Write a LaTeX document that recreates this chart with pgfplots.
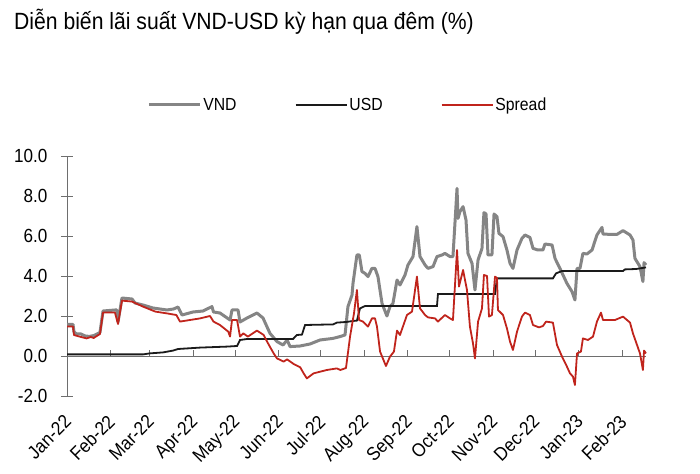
\documentclass[border=0pt]{standalone}
\usepackage{pgfplots}
\pgfplotsset{compat=1.18}
\usepackage{fontspec}
\setmainfont{Liberation Sans}[FakeStretch=0.9]

\definecolor{vndgray}{RGB}{133,133,133}
\definecolor{usdblack}{RGB}{26,26,26}
\definecolor{spreadred}{RGB}{192,36,28}
\definecolor{axisgray}{RGB}{110,110,110}

\begin{document}
\begin{tikzpicture}
\path[use as bounding box] (0,0) rectangle (700pt,473pt);

\begin{axis}[
    at={(67pt,77pt)}, anchor=south west,
    scale only axis,
    width=579pt, height=240pt,
    xmin=0, xmax=413,
    ymin=-2, ymax=10,
    axis x line=middle,
    axis y line=left,
    hide obscured x ticks=false,
    axis line style={-, axisgray, line width=0.8pt},
    xtick={0,31,59,90,120,151,181,212,243,273,304,334,365,396},
    xticklabels={Jan-22,Feb-22,Mar-22,Apr-22,May-22,Jun-22,Jul-22,Aug-22,Sep-22,Oct-22,Nov-22,Dec-22,Jan-23,Feb-23},
    ytick={-2,0,2,4,6,8,10},
    yticklabels={-2.0,0.0,2.0,4.0,6.0,8.0,10.0},
    xtick align=inside,
    ytick align=center,
    major tick length=12pt,
    xtick style={axisgray, line width=0.8pt, /pgfplots/major tick length=6pt},
    ytick style={axisgray, line width=0.8pt},
    tick label style={font=\fontsize{19}{21}\selectfont, black},
    xticklabel style={xshift=-4pt, yshift=-56pt, rotate=45, anchor=north east, inner sep=1pt},
    yticklabel style={anchor=east, xshift=-10pt},
    legend columns=3,
    legend style={draw=none, fill=none, at={(0.485,1)}, anchor=center, yshift=51pt,
        font=\fontsize{17.5}{19}\selectfont,
        /tikz/every even column/.append style={column sep=56pt}},
    legend cell align=left,
    legend image code/.code={\draw[#1] (0pt,0pt) -- (51pt,0pt);},
    clip=false,
]

\addplot[vndgray, line width=3pt, line join=round] coordinates {
(0,1.58)(4.3,1.58)(5,1.2)(7,1.1)(10,1.1)(13,1.0)(16,0.98)(19,1.02)(23.5,1.17)
(25.7,2.25)(34.2,2.3)(35.5,2.3)(36.4,1.7)(39.2,2.9)(46.4,2.85)(48.5,2.65)
(54.2,2.55)(61.3,2.4)(71.3,2.3)(76,2.35)(79.2,2.45)(82,2.05)(89.9,2.2)(97,2.25)
(103.4,2.47)(104.5,2.2)(109.1,2.15)(116.3,1.8)(117.7,2.3)(122,2.3)(123.4,1.7)
(128.4,1.9)(135.5,2.15)(139.8,1.9)(144.8,1.13)(149.8,0.72)(154.1,0.55)(157,0.8)
(159.1,0.47)(166.2,0.5)(173.3,0.6)(180.5,0.8)(189.7,0.88)(194.7,0.97)(198.3,1.05)
(200.4,2.47)(203.3,3.05)(204,3.63)(206.8,5.05)(208.5,5.05)(210.4,4.22)(212.6,4.13)
(214.7,3.97)(217.5,4.38)(219.7,4.38)(221.8,3.97)(224.7,2.63)(228.2,2.0)(230.4,2.47)
(232.5,2.63)(235.4,3.8)(237.5,3.55)(241.1,4.05)(243.2,4.55)(246.8,4.97)(249.6,6.47)
(251.8,4.97)(255.4,4.55)(257.5,4.38)(261.1,4.47)(263.9,4.97)(267.5,5.05)(269.6,5.13)
(273.2,4.97)(275.3,4.97)(278.2,8.38)(278.9,6.88)(280.3,7.22)(282.5,7.47)(284.6,6.8)
(286,5.13)(288.9,4.63)(291,3.3)(293.2,4.8)(296,5.38)(297.4,7.17)(298.9,7.1)
(300.3,5.05)(303.1,5.05)(304.6,7.1)(306.7,6.97)(308.1,6.13)(311,5.97)(313.8,5.3)
(316,4.63)(318.1,4.38)(321,5.3)(324.5,5.88)(326.7,6.05)(330.2,5.93)(332.4,5.38)
(335.9,5.3)(339.5,5.3)(340.9,5.6)(346,5.55)(348.1,4.88)(351.6,4.38)(356.6,3.63)
(360.2,3.22)(362.3,2.8)(363.8,4.38)(365.9,4.38)(368,5.13)(370.9,5.1)(374.5,5.3)
(378,6.05)(381.6,6.43)(382.3,6.1)(387.3,6.08)(392.3,6.08)(396.6,6.27)(401.6,6.05)
(403.7,5.8)(405.1,4.88)(408.7,4.47)(410.8,3.72)(411.6,4.67)(413,4.55)
};
\addlegendentry{VND}

\addplot[usdblack, line width=1.8pt] coordinates {
(0,0.08)(54.2,0.08)(59,0.13)(68.5,0.18)(75.6,0.27)(79.2,0.35)(94.9,0.42)
(114.1,0.47)(121.3,0.5)(123.4,0.8)(128.4,0.85)(161.2,0.85)(164,1.05)(167.6,1.07)
(169.8,1.55)(189.7,1.58)(192.6,1.67)(199,1.7)(204,1.75)(206.8,1.77)(209,2.38)
(212.6,2.5)(263.9,2.5)(264.6,3.1)(305.3,3.1)(306.7,3.88)(346.6,3.88)(348.8,4.13)
(353.1,4.25)(396.6,4.25)(398,4.33)(406,4.35)(413,4.43)
};
\addlegendentry{USD}

\addplot[spreadred, line width=1.8pt, line join=round] coordinates {
(0,1.47)(4.3,1.47)(5,1.05)(9,0.97)(14,0.88)(17,0.95)(19,0.9)(23.5,1.1)
(25.7,2.17)(34.2,2.17)(36.4,1.6)(39.2,2.77)(46.4,2.72)(54.2,2.47)(63,2.22)
(71.3,2.13)(78,2.05)(80.6,1.72)(87.7,1.8)(94.9,1.88)(102,2.0)(104.5,1.72)
(109.1,1.55)(115,1.22)(116.3,0.97)(117.7,1.8)(121.3,1.8)(123.4,0.97)(125.8,1.13)
(129,0.97)(135.5,1.27)(140.3,1.05)(142.7,0.72)(147.4,0.13)(149.8,-0.12)(154.5,-0.28)
(157,-0.17)(161.7,-0.4)(166.4,-0.57)(168.8,-0.87)(171.1,-1.12)(175.8,-0.87)
(185.3,-0.7)(192.5,-0.62)(195,-0.7)(199,-0.6)(201.9,0.97)(204.7,2.13)(206.8,3.3)
(208.3,1.8)(211.1,1.72)(214.7,1.47)(217.5,1.88)(219.7,1.88)(221.1,1.47)(223.3,0.22)
(227.5,-0.5)(230.4,-0.03)(233.2,0.22)(235.4,1.27)(237.5,1.05)(242.5,2.05)(246.1,2.22)
(249.6,3.97)(251.8,2.38)(255.4,2.05)(257.5,1.93)(262.5,1.88)(264.6,1.72)(269.6,2.05)
(273.2,1.88)(275.3,1.8)(278.2,5.3)(279.6,3.47)(282.5,4.3)(285.3,3.3)(287.4,1.47)
(289.6,0.63)(291,-0.12)(293.2,1.72)(296,2.38)(297.4,4.05)(299.6,4.0)(301,1.97)
(303.1,2.05)(305.3,3.97)(306.7,3.9)(307.4,2.3)(311,2.05)(313.8,1.38)(316,0.72)
(318.1,0.3)(321,1.22)(324.5,1.97)(326.7,2.17)(330.2,2.05)(332.4,1.55)(336.7,1.43)
(339.5,1.5)(341.7,1.72)(346.6,1.67)(349.5,0.55)(353.1,-0.03)(356.6,-0.53)
(358.8,-0.87)(360.9,-1.03)(362.3,-1.45)(363.8,0.13)(366.6,0.22)(368,0.88)(371.6,0.8)
(375.2,0.97)(378,1.72)(380.9,2.17)(382.3,1.8)(390.9,1.8)(396.6,1.97)(401.6,1.67)
(403.7,1.13)(406.6,0.55)(408.7,0.13)(410.8,-0.7)(411.6,0.27)(413,0.13)
};
\addlegendentry{Spread}

\end{axis}

\node[anchor=west, inner sep=0pt, font=\fontsize{23.5}{26}\selectfont] at (14pt,451pt)
    {Diễn biến lãi suất VND-USD kỳ hạn qua đêm (\%)};
\end{tikzpicture}
\end{document}
